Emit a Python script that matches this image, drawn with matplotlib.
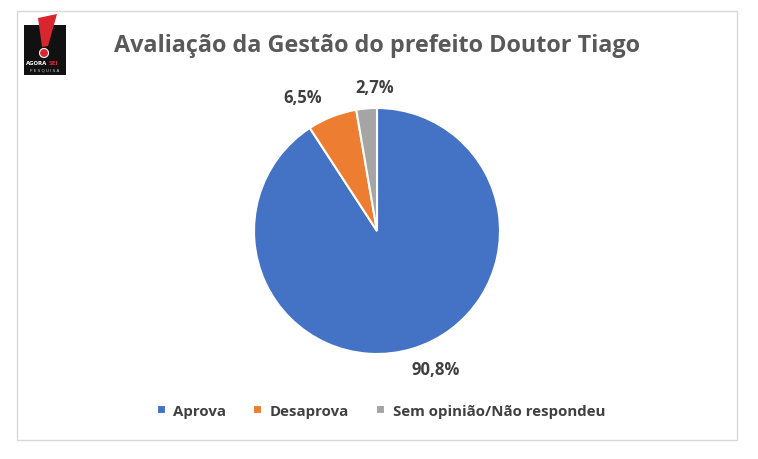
import numpy as np
import matplotlib
matplotlib.use("Agg")
import matplotlib.pyplot as plt
from matplotlib.patches import Rectangle, Polygon, Circle

categories = ["Aprova", "Desaprova", "Sem opinião/Não respondeu"]
values = [90.8, 6.5, 2.7]
colors = ["#4472C4", "#ED7D31", "#A5A5A5"]
title = "Avaliação da Gestão do prefeito Doutor Tiago"

# label placement style (radius factor, angle shift in degrees)
label_dist = [1.22, 1.245, 1.17]
label_shift = [6.6, 7.8, -4.1]

W, H = 758, 460
fig = plt.figure(figsize=(W / 100, H / 100), dpi=100)
fig.patch.set_facecolor("white")

def fx(px):
    return px / W

def fy(py):
    return 1 - py / H

# chart frame
fig.patches.append(Rectangle((fx(17), fy(441)), fx(737) - fx(17), fy(12) - fy(441),
                             transform=fig.transFigure, fill=False,
                             edgecolor="#D9D9D9", linewidth=1.0))

# logo in its own pixel-based axes
lx0, lx1, ly0, ly1 = 20, 70, 12, 80
lax = fig.add_axes([fx(lx0), fy(ly1), (lx1 - lx0) / W, (ly1 - ly0) / H])
lax.set_xlim(lx0, lx1)
lax.set_ylim(ly1, ly0)
lax.axis("off")
lax.add_patch(Rectangle((24, 26), 42, 50, facecolor="#111111", edgecolor="none"))
lax.add_patch(Polygon([(38, 19), (57, 15), (48, 47), (42, 48)], closed=True,
                      facecolor="#D7262E", edgecolor="none"))
lax.add_patch(Circle((44, 54), 4.5, facecolor="#D7262E", edgecolor="white", linewidth=0.8))
lax.text(47.5, 63.5, "AGORA", color="white", fontsize=3.9, fontweight="bold",
         ha="right", va="center")
lax.text(48.3, 63.5, "SEI", color="#D7262E", fontsize=3.9, fontweight="bold",
         ha="left", va="center")
lax.text(45, 70.5, "P E S Q U I S A", color="#CCCCCC", fontsize=3.0,
         ha="center", va="center")

# title
fig.text(fx(377), fy(46), title, ha="center", va="center", fontsize=16.8,
         fontweight="bold", color="#595959", family=["Open Sans", "DejaVu Sans"])

# pie
cx, cy, r = 377, 232, 123
ax = fig.add_axes([fx(cx - r), fy(cy + r), 2 * r / W, 2 * r / H])
wedges, texts, autotexts = ax.pie(
    values, colors=colors, startangle=90, counterclock=False,
    wedgeprops=dict(edgecolor="white", linewidth=1.5),
    autopct=lambda p: f"{p:.1f}".replace(".", ",") + "%", pctdistance=1.2,
    textprops=dict(fontsize=12, fontweight="bold", color="#404040",
                   family=["Open Sans", "DejaVu Sans"]))
ax.set_aspect("equal")
ax.set_xlim(-1, 1)
ax.set_ylim(-1, 1)
for w, t, d, s in zip(wedges, autotexts, label_dist, label_shift):
    ang = np.deg2rad((w.theta1 + w.theta2) / 2 + s)
    t.set_position((d * np.cos(ang), d * np.sin(ang)))
    t.set_ha("center")
    t.set_va("center")

# legend
leg = fig.legend(wedges, categories, loc="center", bbox_to_anchor=(fx(381), fy(412)),
                 ncol=3, frameon=False, handlelength=0.6, handleheight=0.6,
                 columnspacing=1.8, handletextpad=0.5,
                 prop=dict(size=10.8, weight="bold", family=["Open Sans", "DejaVu Sans"]))
for t in leg.get_texts():
    t.set_color("#404040")

fig.savefig("out.png", dpi=100)
